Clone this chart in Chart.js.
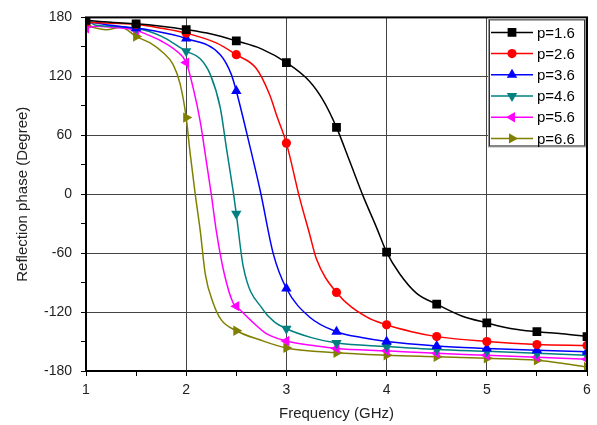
<!DOCTYPE html>
<html lang="en">
<head>
  <meta charset="UTF-8" />
  <title>Reflection phase</title>
  <script src="https://cdn.jsdelivr.net/npm/chart.js"></script>
  <style>
    html, body { margin: 0; padding: 0; background: #fff; }
    #wrap { width: 597px; height: 425px; position: relative; }
  </style>
</head>
<body>
  <div id="wrap"><canvas id="grafica" width="597" height="425"></canvas></div>

  <script>
    // frequencies where the markers sit
    const markerFreq = [1, 1.5, 2, 2.5, 3, 3.5, 4, 4.5, 5, 5.5, 6];
    const xTicks = [1, 2, 3, 4, 5, 6];
    const yTicks = [-180, -120, -60, 0, 60, 120, 180];

    const labels = ['p=1.6', 'p=2.6', 'p=3.6', 'p=4.6', 'p=5.6', 'p=6.6'];

    // p=1.6
    const freq16 = [1, 1.25, 1.5, 1.75, 2, 2.25, 2.5, 2.75, 3, 3.23, 3.37, 3.5, 3.63, 3.77, 3.9, 4, 4.13, 4.3, 4.5, 4.75, 5, 5.25, 5.5, 5.75, 6];
    const phase16 = [177, 175, 173.5, 171, 167.5, 163, 156, 148, 134, 115, 95, 68, 34, -3, -34, -59, -81, -101, -112, -124, -131, -137, -140, -142, -145];
    // p=2.6
    const freq26 = [1, 1.25, 1.5, 1.75, 2, 2.3, 2.5, 2.7, 2.83, 2.91, 3, 3.13, 3.23, 3.3, 3.5, 3.8, 4, 4.25, 4.5, 5, 5.5, 6];
    const phase26 = [175, 174, 173, 169, 164, 154, 142, 128, 102, 78, 52, -3, -40, -66, -100, -125, -133, -140, -145, -150, -153, -154];
    // p=3.6
    const freq36 = [1, 1.25, 1.5, 1.64, 2, 2.34, 2.45, 2.5, 2.6, 2.74, 2.87, 3, 3.23, 3.5, 3.75, 4, 4.5, 5, 5.5, 6];
    const phase36 = [176, 172, 169, 167, 158.5, 142, 122, 105, 64, 3, -61, -96, -125, -140, -146, -150, -154.5, -157, -159, -160.5];
    // p=4.6
    const freq46 = [1, 1.1, 1.25, 1.5, 1.75, 2, 2.14, 2.24, 2.34, 2.4, 2.47, 2.5, 2.57, 2.77, 2.88, 3, 3.25, 3.5, 4, 4.5, 5, 5.5, 6];
    const phase46 = [178, 172, 171, 169, 161, 145.5, 138, 122, 88, 48, 2, -20, -74, -118, -130, -137, -146, -151.5, -155, -158, -160, -162, -164];
    // p=5.6
    const freq56 = [1, 1.1, 1.25, 1.5, 1.6, 1.75, 1.9, 2, 2.07, 2.14, 2.2, 2.25, 2.3, 2.38, 2.47, 2.5, 2.64, 2.8, 3, 3.3, 3.5, 4, 4.5, 5, 5.5, 6];
    const phase56 = [169, 171, 170, 167, 163, 156, 146, 134, 108, 74, 34, 0, -37, -81, -111, -114, -128, -142, -149.5, -154.5, -157, -159.5, -162, -164, -166, -168];
    // p=6.6
    const freq66 = [1, 1.2, 1.35, 1.5, 1.64, 1.77, 1.87, 1.94, 2, 2.04, 2.09, 2.14, 2.19, 2.27, 2.35, 2.5, 2.74, 3, 3.5, 4, 4.5, 5, 5.5, 5.75, 6];
    const phase66 = [171.5, 167.5, 170, 160.5, 154, 144, 132, 112, 78, 41, 0, -37, -81, -111, -128, -139, -148.5, -156.5, -161.5, -164, -165.5, -167, -169, -172, -176];

    const series = [
      { x: freq16, y: phase16, color: '#000000', style: 'rect', rot: 0, r: 6.2 },
      { x: freq26, y: phase26, color: '#ff0000', style: 'circle', rot: 0, r: 4.6 },
      { x: freq36, y: phase36, color: '#0000ff', style: 'triangle', rot: 0, r: 6 },
      { x: freq46, y: phase46, color: '#008080', style: 'triangle', rot: 180, r: 6 },
      { x: freq56, y: phase56, color: '#ff00ff', style: 'triangle', rot: 270, r: 6 },
      { x: freq66, y: phase66, color: '#808000', style: 'triangle', rot: 90, r: 6 }
    ];

    const datasets = series.map((s, i) => ({
      label: labels[i],
      data: s.x.map((f, k) => ({ x: f, y: s.y[k] })),
      borderColor: s.color,
      backgroundColor: s.color,
      borderWidth: 1.5,
      showLine: true,
      cubicInterpolationMode: 'monotone',
      pointStyle: s.style,
      rotation: s.rot,
      pointRadius: ctx => (ctx.raw && markerFreq.includes(ctx.raw.x)) ? s.r : 0,
      pointBorderWidth: 0
    }));

    // frame around the plot + legend box in the top-right corner
    const marco = {
      id: 'marco',
      afterDatasetsDraw(chart) {
        const { ctx, chartArea: a } = chart;
        ctx.save();
        ctx.strokeStyle = '#000';
        ctx.lineWidth = 2;
        ctx.strokeRect(a.left, a.top, a.right - a.left, a.bottom - a.top);

        // legend
        const w = 98, h = 129;
        const lx = a.right - w - 1, ly = a.top + 1;
        ctx.fillStyle = '#fff';
        ctx.fillRect(lx, ly, w, h);
        ctx.lineWidth = 1;
        ctx.strokeStyle = '#999';
        ctx.strokeRect(lx + 0.5, ly + 0.5, w - 1, h - 1);
        ctx.strokeStyle = '#333';
        ctx.strokeRect(lx + 1.5, ly + 1.5, w - 3, h - 3);

        ctx.font = '15px "Liberation Sans", Arial, sans-serif';
        ctx.textBaseline = 'middle';
        ctx.textAlign = 'left';
        series.forEach((s, i) => {
          const cy = ly + 14 + i * 21.2;
          ctx.strokeStyle = s.color;
          ctx.lineWidth = 1.5;
          ctx.beginPath();
          ctx.moveTo(lx + 3, cy);
          ctx.lineTo(lx + 45, cy);
          ctx.stroke();
          ctx.fillStyle = s.color;
          Chart.helpers.drawPoint(ctx, { pointStyle: s.style, rotation: s.rot, radius: s.r, borderWidth: 0 }, lx + 24, cy);
          ctx.fillStyle = '#000';
          ctx.fillText(labels[i], lx + 49, cy + 1);
        });
        ctx.restore();
      }
    };

    const fuente = { family: '"Liberation Sans", Arial, sans-serif' };

    new Chart(document.getElementById('grafica'), {
      type: 'scatter',
      data: { datasets },
      options: {
        responsive: false,
        animation: false,
        events: [],
        layout: { padding: { left: 0, right: 10, top: 16, bottom: 0 } },
        plugins: { legend: { display: false }, tooltip: { enabled: false } },
        scales: {
          x: {
            type: 'linear',
            min: 1, max: 6,
            afterFit: s => { s.height = 54; },
            border: { display: false },
            grid: {
              color: c => (xTicks.includes(c.tick.value) ? '#444' : 'rgba(0,0,0,0)'),
              tickColor: '#000',
              tickLength: 5,
              lineWidth: 1
            },
            ticks: {
              stepSize: 0.5,
              padding: 6,
              color: '#222',
              font: { ...fuente, size: 14 },
              callback: v => (xTicks.includes(v) ? String(v) : '')
            },
            title: {
              display: true,
              text: 'Frequency (GHz)',
              color: '#222',
              font: { ...fuente, size: 15 },
              padding: { top: 0, bottom: 2 }
            }
          },
          y: {
            min: -180, max: 180,
            afterFit: s => { s.width = 86; },
            border: { display: false },
            grid: {
              color: c => (yTicks.includes(c.tick.value) ? '#444' : 'rgba(0,0,0,0)'),
              tickColor: '#000',
              tickLength: 5,
              lineWidth: 1
            },
            ticks: {
              stepSize: 30,
              padding: 9,
              color: '#222',
              font: { ...fuente, size: 14 },
              callback: v => (yTicks.includes(v) ? String(v) : '')
            },
            title: {
              display: true,
              text: 'Reflection phase (Degree)',
              color: '#222',
              font: { ...fuente, size: 15 },
              padding: { top: 14, bottom: 0 }
            }
          }
        }
      },
      plugins: [marco]
    });
  </script>
</body>
</html>
